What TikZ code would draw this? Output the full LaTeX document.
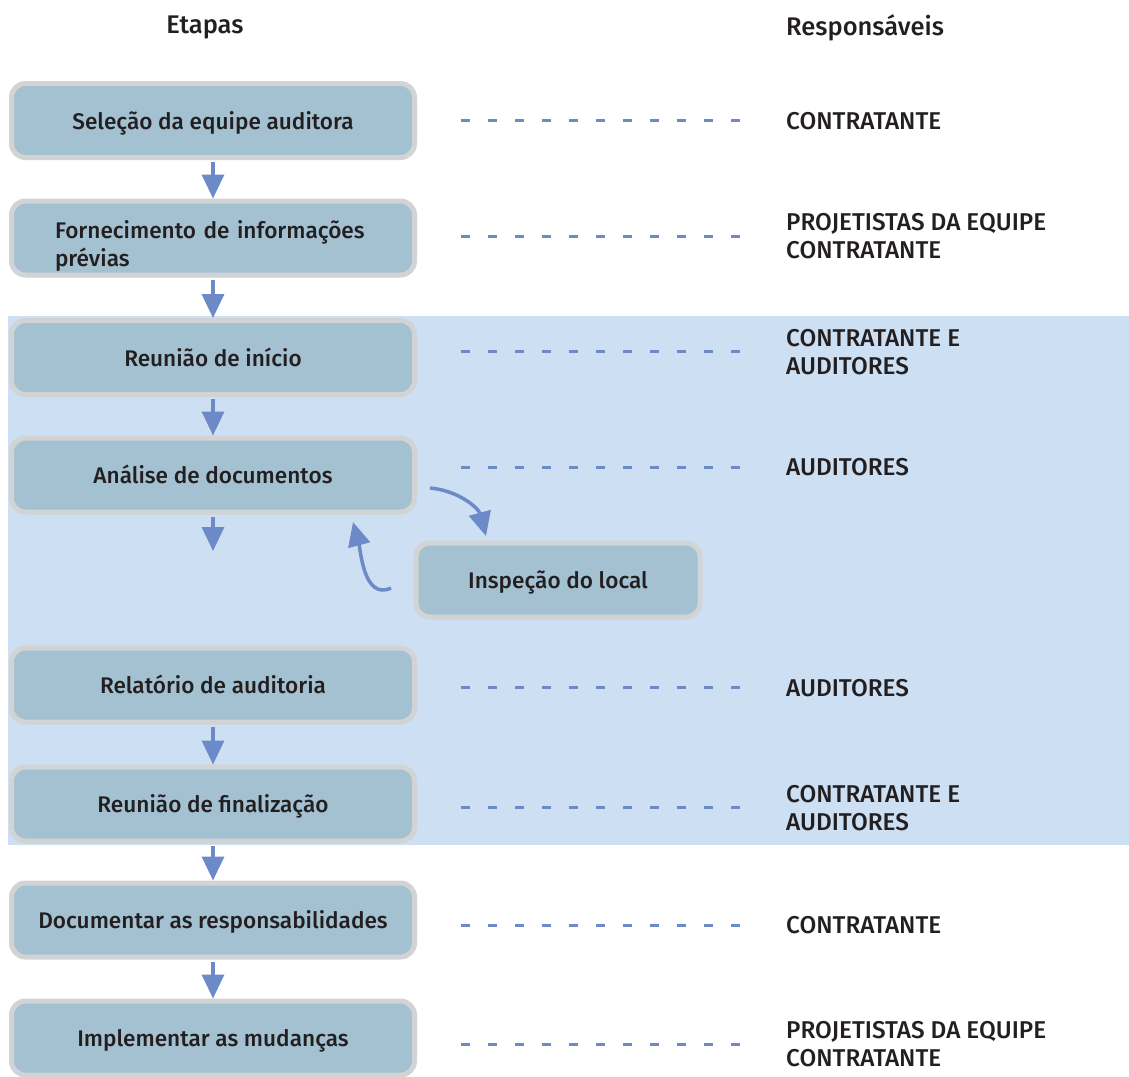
\documentclass[tikz,border=0pt]{standalone}
\usepackage{fontspec}
\setmainfont{Fira Sans Medium}
\usetikzlibrary{arrows.meta,calc}
\definecolor{boxfill}{HTML}{A3C1D1}
\definecolor{boxline}{HTML}{D1D3D4}
\definecolor{flow}{HTML}{6D8AC8}
\definecolor{zone}{HTML}{CDDFF2}
\definecolor{ink}{HTML}{231F20}
\begin{document}
\begin{tikzpicture}[x=1pt,y=-1pt,
  every node/.style={text=ink,font=\fontsize{22.6}{28}\selectfont},
  stage/.style={draw=boxline,line width=5pt,fill=boxfill,rounded corners=14pt,
    minimum width=403pt,minimum height=74pt,inner sep=0pt,align=center,
    text height=22pt,text depth=5pt},
  who/.style={anchor=west,align=left,inner sep=0pt,font=\fontsize{24.3}{27.5}\selectfont},
  head/.style={inner sep=0pt,font=\fontsize{25.5}{30}\selectfont},
  flowarrow/.style={draw=flow,line width=3.5pt,-{Triangle[width=22pt,length=24pt]}},
  link/.style={draw=flow,line width=3pt,dash pattern=on 9pt off 18pt}]
\useasboundingbox (0,0) rectangle (1129,1076);
% shaded block of steps carried out by the auditors
\fill[zone] (8,316) rectangle (1129,845);

% column headers
\node[head] (hEtapas) at (205,27) {Etapas};
\node[head,anchor=west] (hResp) at (786,28) {Responsáveis};

% steps
\node[stage] (s1) at (213,120.5) {Seleção da equipe auditora};
\node[stage,label={[align=left,text width=316pt,inner sep=0pt,yshift=-8pt]center:Fornecimento de informações\\prévias}] (s2) at (213,238) {};
\node[stage] (s3) at (213,357.5) {Reunião de início};
\node[stage] (s4) at (213,475) {Análise de documentos};
\node[stage,minimum width=284pt] (s5) at (558,580) {Inspeção do local};
\node[stage] (s6) at (213,685) {Relatório de auditoria};
\node[stage] (s7) at (213,804) {Reunião de finalização};
\node[stage] (s8) at (213,920) {Documentar as responsabilidades};
\node[stage] (s9) at (213,1038) {Implementar as mudanças};

% responsible parties
\node[who] (r1) at (786,121) {CONTRATANTE};
\node[who] (r2) at (786,236) {PROJETISTAS DA EQUIPE\\CONTRATANTE};
\node[who] (r3) at (786,352) {CONTRATANTE E\\AUDITORES};
\node[who] (r4) at (786,467) {AUDITORES};
\node[who] (r6) at (786,688) {AUDITORES};
\node[who] (r7) at (786,808) {CONTRATANTE E\\AUDITORES};
\node[who] (r8) at (786,925) {CONTRATANTE};
\node[who] (r9) at (786,1044) {PROJETISTAS DA EQUIPE\\CONTRATANTE};

% dotted links from each step to its responsible party
\foreach \y/\n in {120/1,236/2,351/3,467/4,687/6,807/7,925/8,1044/9}{
  \coordinate (da\n) at (461,\y);
  \coordinate (db\n) at (745,\y);
  \draw[link] (da\n) -- (db\n);
}

% sequence arrows
\draw[flowarrow] ([yshift=-2pt]s1.south) -- (s2.north);
\draw[flowarrow] ([yshift=-2pt]s2.south) -- (s3.north);
\draw[flowarrow] ([yshift=-2pt]s3.south) -- (s4.north);
\coordinate (s4out) at (213,551);
\draw[flowarrow] ([yshift=-2pt]s4.south) -- (s4out);
\draw[flowarrow] ([yshift=-2pt]s6.south) -- (s7.north);
\draw[flowarrow] ([yshift=-2pt]s7.south) -- (s8.north);
\draw[flowarrow] ([yshift=-2pt]s8.south) -- (s9.north);

% loop between document review and site inspection
\coordinate (la) at (430,488);
\coordinate (lb) at (486,536);
\coordinate (lc) at (391,588);
\coordinate (ld) at (353,522);
\draw[flowarrow] (la) to[out=-5,in=105] (lb);
\draw[flowarrow] (lc) to[out=205,in=-75] (ld);
\end{tikzpicture}
\end{document}
